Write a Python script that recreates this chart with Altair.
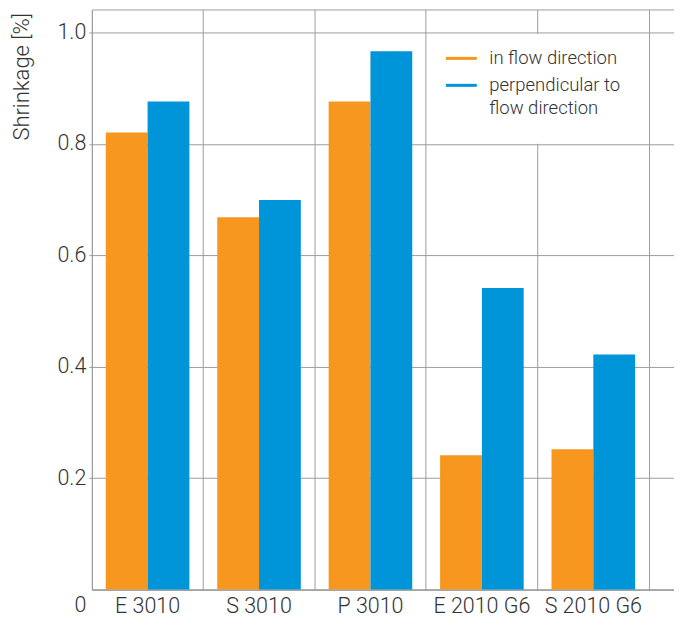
import altair as alt
import pandas as pd

products = ["E 3010", "S 3010", "P 3010", "E 2010 G6", "S 2010 G6"]
in_flow = [0.82, 0.668, 0.876, 0.241, 0.252]
perpendicular = [0.876, 0.699, 0.966, 0.541, 0.422]
series_names = ["in flow direction", "perpendicular to flow direction"]
y_ticks = [0, 0.2, 0.4, 0.6, 0.8, 1.0]
colors = ["#F7971F", "#0095D9"]

rows = []
for p, a, b in zip(products, in_flow, perpendicular):
    rows.append({"product": p, "series": series_names[0], "value": a})
    rows.append({"product": p, "series": series_names[1], "value": b})
df = pd.DataFrame(rows)

FONT = "Roboto"
WEIGHT = 300
TEXT = "#333333"
GRID = "#9d9d9d"
LBL = 21.5

color_scale = alt.Scale(domain=series_names, range=colors)
legend = alt.Legend(
    orient="none", legendX=345, legendY=24,
    title=" ", titleOrient="bottom", titleFontSize=10, titlePadding=7,
    symbolType="stroke", symbolSize=961, symbolStrokeWidth=3,
    labelFontSize=18.5, labelFont=FONT, labelFontWeight=WEIGHT, labelColor=TEXT,
    labelOffset=11, rowPadding=-8, padding=8,
    fillColor="white", strokeColor="transparent", labelLimit=300,
    labelExpr="datum.label == 'perpendicular to flow direction' ? ['perpendicular to', 'flow direction'] : datum.label",
)

chart = alt.Chart(df).mark_bar(strokeWidth=0).encode(
    x=alt.X(
        "product:N", sort=products, title=None,
        scale=alt.Scale(paddingInner=0, paddingOuter=0.112, align=0),
        axis=alt.Axis(
            bandPosition=1, grid=True, gridColor=GRID, gridOpacity=1, ticks=False,
            labelPadding=6, labelAngle=0, labelFontSize=LBL,
            labelFont=FONT, labelFontWeight=WEIGHT, labelColor=TEXT, domainColor=GRID,
        ),
    ),
    xOffset=alt.XOffset("series:N", sort=series_names,
                        scale=alt.Scale(paddingInner=0, paddingOuter=0.333)),
    y=alt.Y(
        "value:Q", title="Shrinkage [%]",
        scale=alt.Scale(domain=[0, 1.041], nice=False, zero=True),
        axis=alt.Axis(
            values=y_ticks, grid=True, gridColor=GRID, gridOpacity=1,
            tickColor=GRID, tickSize=3, labelPadding=3, domainColor=GRID,
            labelFontSize=LBL, labelFont=FONT, labelFontWeight=WEIGHT, labelColor=TEXT,
            labelExpr="datum.value == 0 ? '0' : format(datum.value, '.1f')",
            labelOffset={"condition": {"test": "datum.value == 0", "value": 16}, "value": 0},
            tickOpacity={"condition": {"test": "datum.value == 0", "value": 0}, "value": 1},
            titleFontSize=22, titleFont=FONT, titleFontWeight=WEIGHT, titleColor=TEXT,
            titleX=-63, titleY=3, titleAngle=-90, titleAlign="right", titleBaseline="alphabetic",
        ),
    ),
    fill=alt.Fill("series:N", scale=color_scale, legend=legend),
    stroke=alt.Stroke("series:N", scale=color_scale, legend=legend),
).properties(
    width=583, height=581,
    autosize=alt.AutoSizeParams(type="none"),
    padding={"left": 84, "top": 1, "right": 0, "bottom": 35},
).configure(
    view={"stroke": GRID, "strokeWidth": 1},
    style={"guide-label": {"lineHeight": 23}},
)

chart.save("out.html", embed_options={"renderer": "svg", "actions": False})
